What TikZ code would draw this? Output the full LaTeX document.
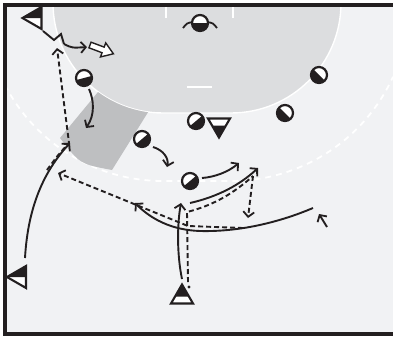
\documentclass[tikz,border=0pt]{standalone}
\usetikzlibrary{arrows.meta,calc}
\definecolor{bgcol}{HTML}{F1F2F4}
\definecolor{areacol}{HTML}{DCDDDF}
\definecolor{zonecol}{HTML}{BEBFC1}
\definecolor{ink}{HTML}{231F20}
\tikzset{
  run/.style={ink, line width=1.9pt, line cap=butt,
    -{Straight Barb[length=5pt,width=11pt,line width=1.8pt]}},
  pass/.style={run, dash pattern=on 5pt off 3pt},
  passline/.style={ink, line width=1.9pt, dash pattern=on 5pt off 3pt},
  whitemark/.style={white, line width=1.4pt},
  frameline/.style={ink, line width=4pt},
}
\newcommand\defplayer[2]{%
  \fill[white] (#1) circle[radius=8];
  \fill[ink] ($(#1)+(#2+90:8)$) arc[start angle=#2+90, delta angle=-180, radius=8] -- cycle;
  \draw[ink, line width=2.2pt] (#1) circle[radius=8];
}
% attacker, apex half black
\newcommand\attplayer[2]{%
  \begin{scope}[shift={(#1)}, rotate=#2]
    \fill[white] (0,-10.5) -- (-11,8.5) -- (11,8.5) -- cycle;
    \fill[ink] (0,-10.5) -- (-7,1.5) -- (7,1.5) -- cycle;
    \draw[ink, line width=2.1pt, line join=miter] (0,-10.5) -- (-11,8.5) -- (11,8.5) -- cycle;
  \end{scope}
}
% attacker, split along its axis
\newcommand\attplayerb[2]{%
  \begin{scope}[shift={(#1)}, rotate=#2]
    \fill[white] (0,-10.5) -- (-11,8.5) -- (11,8.5) -- cycle;
    \fill[ink] (0,-10.5) -- (11,8.5) -- (0,8.5) -- cycle;
    \draw[ink, line width=2.1pt, line join=miter] (0,-10.5) -- (-11,8.5) -- (11,8.5) -- cycle;
  \end{scope}
}
\begin{document}
\begin{tikzpicture}[x=1pt, y=-1pt]
\useasboundingbox (0,0) rectangle (393,338);
% background
\fill[white] (0,0) rectangle (393,338);
\fill[bgcol] (5,5) rectangle (393,333);
% 9m dashed line
\draw[white, line width=1.8pt, dash pattern=on 6pt off 5pt]
  (4.9,84.9) arc[start angle=152.6, end angle=90, radius=178] -- (231,181)
  arc[start angle=90, end angle=24.5, radius=178];
% goal area
\fill[areacol] (53,3) arc[start angle=180, end angle=90, radius=110] -- (231,113)
  arc[start angle=90, end angle=0, radius=110] -- cycle;
\draw[white, line width=1.4pt] (53,3) arc[start angle=180, end angle=90, radius=110] -- (231,113)
  arc[start angle=90, end angle=0, radius=110];
% shaded zone
\fill[zonecol] (98,92) arc[start angle=126.2, end angle=97.8, radius=110] -- (112,170)
  .. controls (80,164) .. (60,138) -- cycle;
% white marks
\draw[whitemark] (166,7) -- (166,18);
\draw[whitemark] (233,7) -- (233,18);
\draw[whitemark] (187,87) -- (212,87);
% frame
\draw[frameline] (393,5.3) -- (5.3,5.3) -- (5.3,333.5) -- (393,333.5);

% player positions
\coordinate (gk) at (200,23);
\coordinate (d1) at (84,78);
\coordinate (d2) at (142,139);
\coordinate (d3) at (196,121);
\coordinate (d5) at (190,181);
\coordinate (d6) at (285,113);
\coordinate (d7) at (319,75);
\coordinate (a1) at (33,18);
\coordinate (a2) at (17.5,277);
\coordinate (a3) at (182,295);
\coordinate (a4) at (219,127);
\coordinate (ball) at (189,287);

% path points
\coordinate (z0) at (43,31);
\coordinate (z1) at (54,40);
\coordinate (z2) at (61,34);
\coordinate (z3) at (64,44);
\coordinate (z4) at (87,47);
\coordinate (h0) at (90,45);
\coordinate (wl0) at (25,258);
\coordinate (wl1) at (70,143);
\coordinate (p0) at (47,170);
\coordinate (p1) at (69,143);
\coordinate (p2) at (57,48);
\coordinate (r1s) at (89,89);
\coordinate (r1e) at (86,128);
\coordinate (r2s) at (153,147);
\coordinate (r2e) at (167,167);
\coordinate (r5s) at (202,178);
\coordinate (r5e) at (239,163);
\coordinate (b0) at (182,279);
\coordinate (b1) at (181,203);
\coordinate (c0) at (190,203);
\coordinate (c1) at (258,168);
\coordinate (q0) at (188,282);
\coordinate (q1) at (187,212);
\coordinate (q2) at (253,176);
\coordinate (q3) at (248,218);
\coordinate (s0) at (243,228);
\coordinate (s1) at (188,226);
\coordinate (s2) at (58,173);
\coordinate (w0) at (313,208);
\coordinate (w1) at (200,231);
\coordinate (w2) at (135,203);
\coordinate (k0) at (327,227);
\coordinate (k1) at (319,214);

% runs and passes
\draw[run] (wl0) .. controls (28,205) and (45,170) .. (wl1);
\draw[pass] (p0) .. controls (58,155) .. (p1) -- (p2);
\draw[ink, line width=1.9pt, line join=miter] (z0) -- (z1) -- (z2) -- (z3);
\draw[run] (z3) .. controls (72,48) .. (z4);
\begin{scope}[shift={(h0)}, rotate=-20.6]
  \draw[ink, fill=white, line width=1.4pt, line join=miter]
    (0,-3) -- (14,-3) -- (14,-7.5) -- (25,0) -- (14,7.5) -- (14,3) -- (0,3) -- cycle;
\end{scope}
\draw[run] (r1s) .. controls (94,100) and (95,115) .. (r1e);
\draw[run] (r2s) .. controls (163,150) and (169,158) .. (r2e);
\draw[run] (r5s) .. controls (215,177) and (228,172) .. (r5e);
\draw[run] (b0) .. controls (177,255) and (177,225) .. (b1);
\draw[run] (c0) .. controls (225,195) and (245,180) .. (c1);
\draw[passline] (q0) -- (q1) .. controls (215,205) and (235,192) .. (q2);
\draw[pass] (q2) -- (q3);
\draw[pass] (s0) -- (s1) -- (s2);
\draw[run] (w0) .. controls (280,222) and (240,232) .. (w1)
  .. controls (170,230) and (150,218) .. (w2);
\draw[run] (k0) -- (k1);

% goalkeeper arms
\draw[ink, line width=1.8pt] (183,28) .. controls (187,23) .. (193,22) -- (207,22) .. controls (213,23) .. (217,28);
% players
\defplayer{gk}{90}
\defplayer{d1}{75}
\defplayer{d2}{50}
\defplayer{d3}{50}
\defplayer{d5}{50}
\defplayer{d6}{135}
\defplayer{d7}{135}
\attplayerb{a1}{90}
\attplayerb{a2}{90}
\attplayer{a3}{0}
\attplayer{a4}{180}
\fill[ink] (ball) circle[radius=1.7];
\end{tikzpicture}
\end{document}
